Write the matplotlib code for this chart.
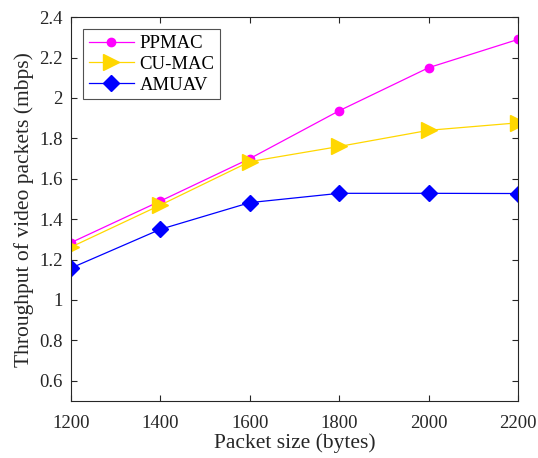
import matplotlib
matplotlib.use("Agg")
import matplotlib.pyplot as plt

packet_size = [1200, 1400, 1600, 1800, 2000, 2200]
ppmac = [1.284, 1.49, 1.70, 1.937, 2.15, 2.29]
cumac = [1.262, 1.47, 1.685, 1.76, 1.84, 1.877]
amuav = [1.158, 1.35, 1.482, 1.528, 1.528, 1.527]

plt.rcParams['font.family'] = ['Liberation Serif', 'DejaVu Serif']

fig = plt.figure(figsize=(5.38, 4.58), dpi=100)
ax = fig.add_axes([0.132, 0.1245, 0.831, 0.838])

ax.plot(packet_size, ppmac, color='#ff00ff', lw=0.9, marker='o', ms=6, label='PPMAC')
ax.plot(packet_size, cumac, color='#ffd700', lw=0.9, marker='>', ms=11, label='CU-MAC')
ax.plot(packet_size, amuav, color='#0000ff', lw=0.9, marker='D', ms=8, label='AMUAV')

ax.set_xlim(1200, 2200)
ax.set_ylim(0.5, 2.4)
ax.set_xticks(packet_size)
ax.set_yticks([0.6, 0.8, 1.0, 1.2, 1.4, 1.6, 1.8, 2.0, 2.2, 2.4])
ax.set_yticklabels(['0.6', '0.8', '1', '1.2', '1.4', '1.6', '1.8', '2', '2.2', '2.4'])
ax.tick_params(direction='in', top=True, right=True, labelsize=13.5, length=4,
               color='#262626', labelcolor='#262626')
ax.tick_params(axis='x', pad=10)
ax.tick_params(axis='y', pad=6)
for s in ax.spines.values():
    s.set_color('#262626')
    s.set_linewidth(0.8)

ax.set_xlabel('Packet size (bytes)', fontsize=15.5, color='#262626', labelpad=1)
ax.set_ylabel('Throughput of video packets (mbps)', fontsize=15.5, color='#262626', labelpad=4)

leg = ax.legend(loc='upper left', fontsize=13.5, frameon=True, fancybox=False,
                edgecolor='#262626', borderpad=0.3, labelspacing=0.2,
                handlelength=2.4, handletextpad=0.3, borderaxespad=0.65)
leg.get_frame().set_linewidth(0.8)
for t in leg.get_texts():
    t.set_color('black')

fig.savefig('out.png', dpi=100)
